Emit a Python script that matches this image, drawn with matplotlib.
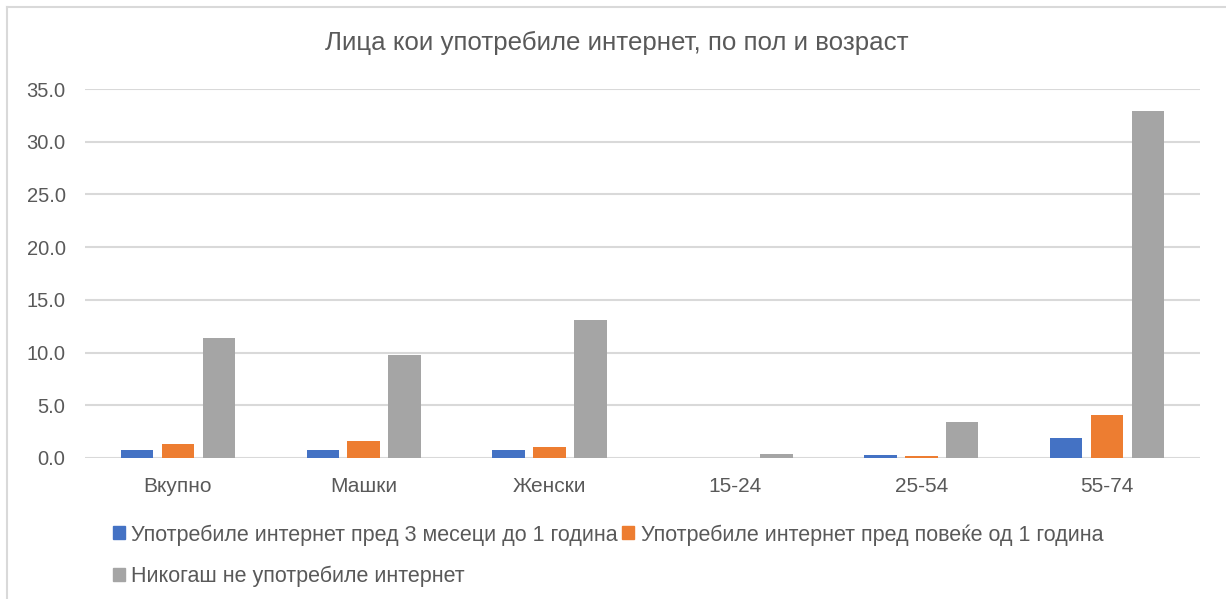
import matplotlib.pyplot as plt
import numpy as np
from matplotlib.lines import Line2D
from matplotlib.patches import Patch

categories = ["Вкупно", "Машки", "Женски", "15-24", "25-54", "55-74"]
recent = [0.8, 0.8, 0.8, 0.0, 0.3, 1.9]
older = [1.3, 1.6, 1.0, 0.0, 0.2, 4.1]
never = [11.4, 9.8, 13.1, 0.4, 3.4, 32.9]
series_names = [
    "Употребиле интернет пред 3 месеци до 1 година",
    "Употребиле интернет пред повеќе од 1 година",
    "Никогаш не употребиле интернет",
]
title = "Лица кои употребиле интернет, по пол и возраст"
yticks = [0, 5, 10, 15, 20, 25, 30, 35]


def main():
    plt.rcParams["font.family"] = ["Liberation Sans", "DejaVu Sans"]
    text_col = "#595959"
    grid_col = "#d9d9d9"
    colors = ["#4472C4", "#ED7D31", "#A5A5A5"]

    fig = plt.figure(figsize=(12.26, 5.99), dpi=100)
    ax = fig.add_axes([0.0693, 0.2354, 0.9095, 0.616])

    x = np.arange(len(categories))
    w = 0.175
    step = 0.22
    for k, vals in enumerate([recent, older, never]):
        ax.bar(x + (k - 1) * step, vals, width=w, color=colors[k], zorder=3)

    ax.set_xlim(-0.5, len(categories) - 0.5)
    ax.set_ylim(0, 35)
    ax.set_yticks(yticks)
    ax.set_yticklabels([f"{v:.1f}" for v in yticks])
    ax.set_xticks(x)
    ax.set_xticklabels(categories)
    ax.tick_params(axis="both", length=0, labelsize=14.5, colors=text_col)
    ax.tick_params(axis="x", labelsize=15, pad=14)
    ax.tick_params(axis="y", pad=14)
    ax.grid(axis="y", color=grid_col, linewidth=1.5, zorder=0)
    for s in ax.spines.values():
        s.set_visible(False)

    fig.text(0.503, 1 - 43 / 599, title, ha="center", va="center",
             fontsize=18.6, color=text_col)

    # chart border (only top and left visible in crop)
    fig.add_artist(Line2D([7 / 1226, 7 / 1226], [0, 1 - 7 / 599],
                          transform=fig.transFigure, color=grid_col, lw=1.5))
    fig.add_artist(Line2D([7 / 1226, 1], [1 - 7 / 599, 1 - 7 / 599],
                          transform=fig.transFigure, color=grid_col, lw=1.5))

    handles = [Patch(color=colors[0]), Patch(color=colors[2]), Patch(color=colors[1])]
    labels = [series_names[0], series_names[2], series_names[1]]
    leg = fig.legend(handles, labels, ncol=2, loc="upper left",
                     bbox_to_anchor=(113 / 1226, 1 - 524 / 599),
                     frameon=False, fontsize=15.5, handlelength=0.55,
                     handleheight=0.55, handletextpad=0.3, columnspacing=0.2,
                     labelspacing=0.95, borderpad=0, borderaxespad=0)
    for t in leg.get_texts():
        t.set_color(text_col)

    fig.savefig("out.png", dpi=100)


if __name__ == "__main__":
    main()
